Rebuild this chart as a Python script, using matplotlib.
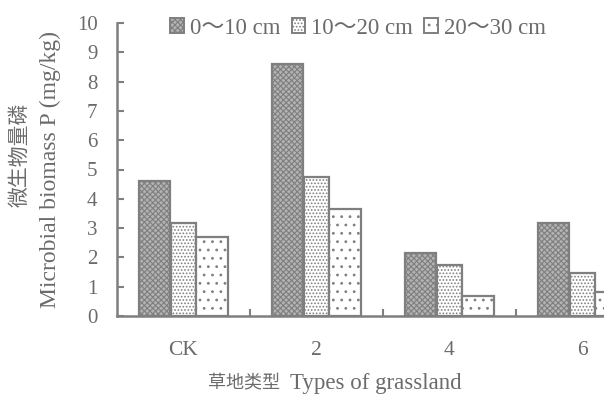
import matplotlib
matplotlib.use("Agg")
import matplotlib.pyplot as plt
from matplotlib.patches import Patch
import numpy as np

groups = ["CK", "2", "4", "6"]
series = ["0～10 cm", "10～20 cm", "20～30 cm"]
v_0_10 = [4.6, 8.6, 2.15, 3.17]
v_10_20 = [3.17, 4.74, 1.74, 1.47]
v_20_30 = [2.7, 3.65, 0.68, 0.82]
yticks = list(range(0, 11))

plt.rcParams['font.family'] = ['Liberation Serif', 'Noto Sans CJK SC', 'DejaVu Sans']
plt.rcParams['hatch.linewidth'] = 0.8

TXT = '#6b6b6b'
EDGE = '#7f7f7f'

fig = plt.figure(figsize=(6.04, 3.96), dpi=100)
W, H = 604, 396
left_px, right_px = 117, 117 + 4 * 133
bottom_px, top_px = 316, 23
ax = fig.add_axes([left_px / W, (H - bottom_px) / H, (right_px - left_px) / W, (bottom_px - top_px) / H])

x = np.arange(len(groups))
offsets = [-0.218, 0.0, 0.215]
widths = [0.24, 0.195, 0.235]
faces = ['#b3b3b3', 'white', 'white']
hatches = ['xxxxxx', '.....', '..']
vals = [v_0_10, v_10_20, v_20_30]
for vs, off, w, fc, h in zip(vals, offsets, widths, faces, hatches):
    ax.bar(x + off, vs, width=w, color=fc, edgecolor=EDGE, hatch=h, linewidth=1.6, zorder=2)

ax.set_xlim(-0.5, 3.5)
ax.set_ylim(0, 10)
ax.set_yticks(yticks)
ax.set_yticklabels([str(t) for t in yticks])
ax.set_xticks(x)
ax.set_xticklabels(groups)
ax.set_xticks([0.5, 1.5, 2.5], minor=True)
ax.tick_params(axis='x', which='major', length=0, pad=18, labelsize=15.5, labelcolor=TXT)
ax.tick_params(axis='x', which='minor', direction='in', length=5, width=1.5, color=EDGE)
ax.tick_params(axis='y', direction='in', length=5, width=1.5, color=EDGE, pad=14, labelsize=15, labelcolor=TXT)
for s in ['top', 'right']:
    ax.spines[s].set_visible(False)
for s in ['left', 'bottom']:
    ax.spines[s].set_color(EDGE)
    ax.spines[s].set_linewidth(1.8)
ax.spines['bottom'].set_zorder(3)

handles = [Patch(facecolor=fc, edgecolor=EDGE, hatch=h, linewidth=1.4) for fc, h in zip(faces, hatches)]
leg = fig.legend(handles, series, loc='center', bbox_to_anchor=(358 / W, 1 - 28 / H), ncol=3, frameon=False,
                 handlelength=0.6, handleheight=0.6, handletextpad=0.25, columnspacing=0.5,
                 fontsize=16.5, labelcolor=TXT)

fig.text(20 / W, 1 - 155 / H, "微生物量磷", rotation=90, ha='center', va='center', fontsize=15, color=TXT,
         family=['Noto Sans CJK SC'])
fig.text(50 / W, 1 - 170 / H, "Microbial biomass P (mg/kg)", rotation=90, ha='center', va='center',
         fontsize=17, color=TXT)
fig.text(280 / W, 1 - 383 / H, "草地类型", ha='right', va='center', fontsize=13, color=TXT,
         family=['Noto Sans CJK SC'])
fig.text(290 / W, 1 - 383 / H, "Types of grassland", ha='left', va='center', fontsize=16.5, color=TXT)

fig.savefig("out.png", dpi=100)
